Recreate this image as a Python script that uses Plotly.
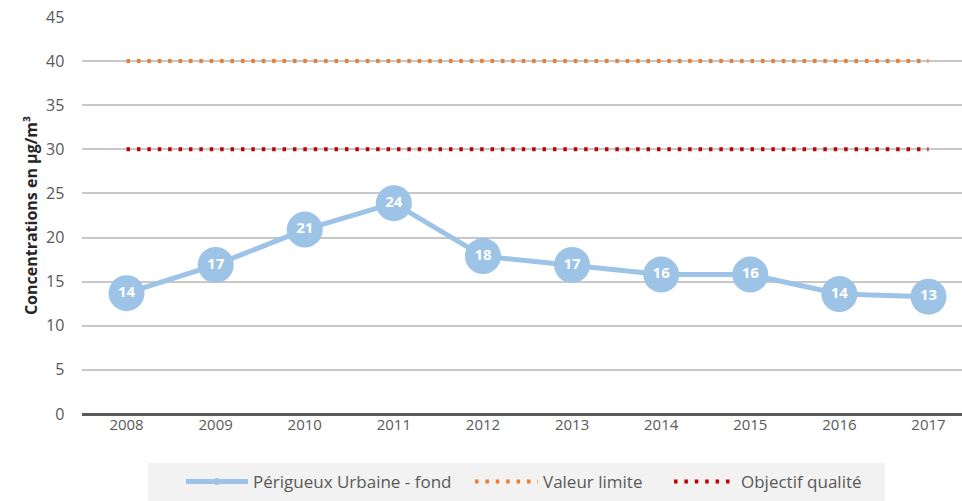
import plotly.graph_objects as go

years = ["2008", "2009", "2010", "2011", "2012", "2013", "2014", "2015", "2016", "2017"]
perigueux = [13.7, 16.9, 20.9, 23.9, 17.9, 16.9, 15.8, 15.8, 13.6, 13.3]
perigueux_labels = ["14", "17", "21", "24", "18", "17", "16", "16", "14", "13"]
valeur_limite = [40] * 10
objectif_qualite = [30] * 10

font_family = "Open Sans, Noto Sans, sans-serif"
grey = "#595959"
blue = "#9DC3E6"
L, PW = 82, 880

fig = go.Figure()
fig.add_trace(go.Scatter(
    x=years, y=perigueux, name="Périgueux Urbaine - fond", showlegend=False,
    mode="lines+markers+text", text=perigueux_labels, textposition="middle center",
    textfont=dict(color="white", size=15, family=font_family, weight="bold"),
    line=dict(color=blue, width=5),
    marker=dict(color=blue, size=36),
))
# legend entry (small marker as in the reference legend)
fig.add_trace(go.Scatter(
    x=[None], y=[None], name="Périgueux Urbaine - fond", mode="lines+markers",
    line=dict(color=blue, width=5), marker=dict(color=blue, size=7), legend="legend",
))
fig.add_trace(go.Scatter(
    x=years, y=valeur_limite, name="Valeur limite", mode="lines", legend="legend2",
    line=dict(color="#ED7D31", width=4, dash="3.5px,6.9px"),
))
fig.add_trace(go.Scatter(
    x=years, y=objectif_qualite, name="Objectif qualité", mode="lines", legend="legend3",
    line=dict(color="#C00000", width=4, dash="3.5px,6.9px"),
))

# legend background box
fig.add_shape(type="rect", xref="paper", yref="paper",
              x0=(148 - L) / PW, x1=(885 - L) / PW,
              y0=(414 - 510) / 397, y1=(414 - 463) / 397,
              fillcolor="#F2F2F2", line=dict(width=0), layer="below")

def leg(px, iw):
    return dict(orientation="h", x=(px - L) / PW, xanchor="left",
                y=(414 - 500) / 397, yanchor="bottom",
                bgcolor="rgba(0,0,0,0)", font=dict(size=17, color=grey),
                itemwidth=iw)

fig.update_layout(
    width=962, height=501,
    margin=dict(l=L, r=0, t=17, b=87),
    paper_bgcolor="white", plot_bgcolor="white",
    font=dict(family=font_family, color=grey, size=15),
    showlegend=True,
    legend=leg(181, 62),
    legend2=leg(470, 63),
    legend3=leg(669, 62),
    xaxis=dict(type="category", range=[-0.5, 9.376], showgrid=False, automargin=False,
               showline=False, ticks="", tickfont=dict(size=15, color=grey)),
    yaxis=dict(range=[0, 45], dtick=5, showgrid=True, gridcolor="#C8C8C8", gridwidth=1.5,
               zeroline=True, zerolinecolor="#595959", zerolinewidth=3, automargin=False,
               ticks="", tickfont=dict(size=16, color=grey), ticksuffix="    ",
               title=dict(text="Concentrations en µg/m³",
                          font=dict(size=16, color="#262626", family=font_family, weight="bold"),
                          standoff=4)),
)

fig.write_html("out.html", config={"displayModeBar": False},
               post_script="document.body.style.margin='0';document.body.style.overflow='hidden';")
